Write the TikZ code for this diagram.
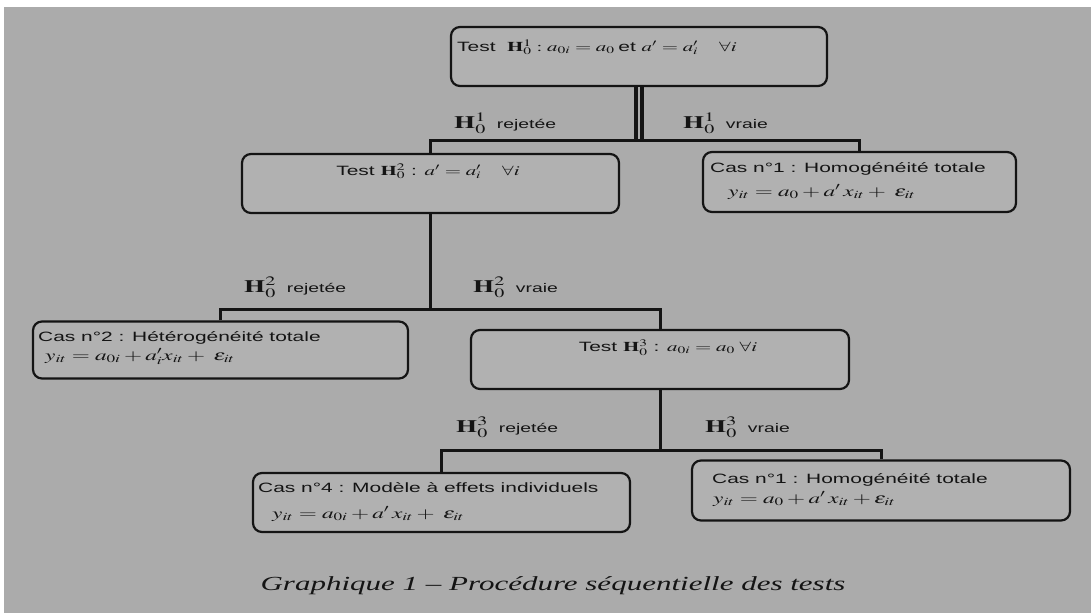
\documentclass[tikz,border=0pt]{standalone}
\usepackage{mathptmx}
\usepackage{fontspec}
\usepackage{graphicx}
\newfontfamily\arialf{Liberation Sans}
\newfontfamily\timesf{Liberation Serif}
\definecolor{bg}{RGB}{171,171,171}
\definecolor{boxfill}{RGB}{177,177,177}
\definecolor{ink}{RGB}{20,20,20}
\newcommand{\W}[1]{\scalebox{1.55}[1]{#1}}
\newcommand{\HH}[1]{{\fontsize{17.5}{20}\selectfont$\mathbf{H}^{#1}_0$}}
\tikzset{
  box/.style={draw=ink, line width=2.2pt, rounded corners=9pt, fill=boxfill, inner sep=0pt},
  conn/.style={draw=ink, line width=3pt},
  dbl/.style={draw=ink, line width=4pt, double=bg, double distance=2pt},
  txt/.style={inner sep=0pt, anchor=base west, text=ink, font=\arialf\fontsize{13.5}{16}\selectfont},
  eqn/.style={txt, font=\arialf\fontsize{15}{18}\selectfont},
  txtc/.style={txt, anchor=base},
  lbl/.style={inner sep=0pt, anchor=base west, text=ink, font=\arialf\fontsize{12.5}{15}\selectfont},
}
\begin{document}
\begin{tikzpicture}[x=1pt,y=-1pt]
\useasboundingbox (0,0) rectangle (1091,613);
\fill[white] (0,0) rectangle (1091,613);
\fill[bg] (4,7) rectangle (1091,613);

% boxes
\node[box, minimum width=376pt, minimum height=59pt] (t1) at (639,56.5) {};
\node[box, minimum width=377pt, minimum height=59pt] (t2) at (430.5,183.5) {};
\node[box, minimum width=313pt, minimum height=60pt] (c1) at (859.5,182) {};
\node[box, minimum width=375pt, minimum height=57pt] (c2) at (220.5,350) {};
\node[box, minimum width=378pt, minimum height=59pt] (t3) at (660,359.5) {};
\node[box, minimum width=377pt, minimum height=59pt] (c4) at (441.5,502.5) {};
\node[box, minimum width=378pt, minimum height=60pt] (c5) at (881,490.5) {};

% junctions
\coordinate (j1) at (639,140);
\coordinate (j2) at (430.5,309);
\coordinate (j3) at (660,450);

% connectors
\draw[dbl] (t1.south) -- (j1);
\draw[conn] (t2.north) |- (j1) -| (c1.north);
\draw[conn] (t2.south) -- (j2);
\draw[conn] (c2.north) |- (j2) -| (t3.north);
\draw[conn] (t3.south) -- (j3);
\draw[conn] (c4.north) |- (j3) -| (c5.north);

% box texts
\node[txt] (t1t) at (457,51) {\W{Test~~$\mathbf{H}^1_0 : a_{0i} = a_0$\,et~$a' = a'_i \quad \forall i$}};
\node[txtc] (t2t) at (428,175) {\W{Test $\mathbf{H}^2_0$ : $a' = a'_i \quad \forall i$}};
\node[txt] (c1a) at (710,172) {\W{Cas n°1 : Homogénéité totale}};
\node[eqn] (c1b) at (728,196) {\W{$y_{it} = a_0 + a'\,x_{it} + \;\varepsilon_{it}$}};
\node[txt] (c2a) at (38,341) {\W{Cas n°2 : Hétérogénéité totale}};
\node[eqn] (c2b) at (45,360) {\W{$y_{it} = a_{0i} + a'_i x_{it} + \;\varepsilon_{it}$}};
\node[txtc] (t3t) at (668,351) {\W{Test $\mathbf{H}^3_0$ : $a_{0i} = a_0 \;\forall i$}};
\node[txt] (c4a) at (258,492) {\W{Cas n°4 : Modèle à effets individuels}};
\node[eqn] (c4b) at (272,518) {\W{$y_{it} = a_{0i} + a'\,x_{it} + \;\varepsilon_{it}$}};
\node[txt] (c5a) at (712,483) {\W{Cas n°1 : Homogénéité totale}};
\node[eqn] (c5b) at (713,503) {\W{$y_{it} = a_0 + a'\,x_{it} + \varepsilon_{it}$}};

% branch labels
\node[lbl] (l1r) at (454,128) {\W{\HH{1}~ rejetée}};
\node[lbl] (l1v) at (683,128) {\W{\HH{1}~ vraie}};
\node[lbl] (l2r) at (244,292) {\W{\HH{2}~ rejetée}};
\node[lbl] (l2v) at (473,292) {\W{\HH{2}~ vraie}};
\node[lbl] (l3r) at (456,432) {\W{\HH{3}~ rejetée}};
\node[lbl] (l3v) at (705,432) {\W{\HH{3}~ vraie}};

% caption
\node[inner sep=0pt, text=ink, font=\timesf\itshape\fontsize{20}{24}\selectfont] (cap) at (553,586) {\W{Graphique 1 – Procédure séquentielle des tests}};
\end{tikzpicture}
\end{document}
